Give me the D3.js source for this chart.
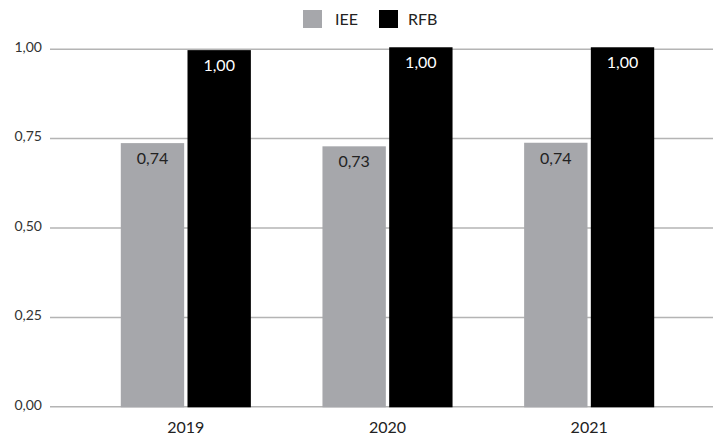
<!DOCTYPE html>
<html>
<head>
<meta charset="utf-8">
<script src="https://cdn.jsdelivr.net/npm/d3@7"></script>
<style>
  body { margin: 0; background: #fff; }
  svg { display: block; font-family: Lato, "Open Sans", sans-serif; }
</style>
</head>
<body>
<svg width="715" height="437"></svg>
<script>
(function (d3) {
  'use strict';

  // data
  const years = ['2019', '2020', '2021'];
  const seriesNames = ['IEE', 'RFB'];
  const ieeValues = [0.736, 0.727, 0.737];
  const rfbValues = [0.996, 1.004, 1.004];
  const yTicks = [0, 0.25, 0.5, 0.75, 1];

  const colors = { IEE: '#a6a7ab', RFB: '#000000' };
  const labelColors = { IEE: '#222222', RFB: '#ffffff' };

  const svg = d3.select('svg');
  const fmt = v => d3.format('.2f')(v).replace('.', ',');

  const rows = years.map((year, i) => ({ year, IEE: ieeValues[i], RFB: rfbValues[i] }));

  const yScale = d3.scaleLinear().domain([0, 1]).range([406.3, 48.7]);

  const xScale = d3.scaleBand()
    .domain(years)
    .range([85, 690])
    .paddingInner(0.355)
    .paddingOuter(0.1775);

  const xSub = d3.scaleBand()
    .domain(seriesNames)
    .range([0, xScale.bandwidth()])
    .paddingInner(0.05);

  // y axis with gridlines
  const yAxisG = svg.append('g')
    .attr('transform', 'translate(50,0)')
    .call(d3.axisLeft(yScale)
      .tickValues(yTicks)
      .tickFormat(fmt)
      .tickSize(-663)
      .tickPadding(8));
  yAxisG.select('.domain').remove();
  yAxisG.selectAll('.tick line')
    .attr('stroke', '#b4b4b4')
    .attr('stroke-width', 1.5);
  yAxisG.selectAll('.tick text')
    .attr('font-family', 'Lato, "Open Sans", sans-serif')
    .attr('font-size', 14)
    .attr('fill', '#333')
    .attr('dy', '0.2em');

  // bars
  const groups = svg.append('g').selectAll('g')
    .data(rows)
    .join('g')
    .attr('transform', d => `translate(${xScale(d.year)},0)`);

  groups.selectAll('rect')
    .data(d => seriesNames.map(key => ({ key, value: d[key] })))
    .join('rect')
    .attr('x', d => xSub(d.key))
    .attr('y', d => yScale(d.value))
    .attr('width', xSub.bandwidth())
    .attr('height', d => yScale(0) - yScale(d.value) + 1)
    .attr('fill', d => colors[d.key]);

  groups.selectAll('text')
    .data(d => seriesNames.map(key => ({ key, value: d[key] })))
    .join('text')
    .attr('x', d => xSub(d.key) + xSub.bandwidth() / 2)
    .attr('y', d => yScale(d.value) + 21)
    .attr('text-anchor', 'middle')
    .attr('font-size', 16)
    .attr('fill', d => labelColors[d.key])
    .text(d => fmt(d.value));

  // x axis labels
  const xAxisG = svg.append('g')
    .attr('transform', `translate(0,${yScale(0)})`)
    .call(d3.axisBottom(xScale).tickSize(0).tickPadding(15));
  xAxisG.select('.domain').remove();
  xAxisG.selectAll('.tick text')
    .attr('font-family', 'Lato, "Open Sans", sans-serif')
    .attr('font-size', 16)
    .attr('fill', '#222');

  // legend
  const legendX = d3.scaleOrdinal().domain(seriesNames).range([303, 379]);
  const legend = svg.append('g').selectAll('g')
    .data(seriesNames)
    .join('g')
    .attr('transform', d => `translate(${legendX(d)},10)`);
  legend.append('rect')
    .attr('width', 19)
    .attr('height', 18)
    .attr('fill', d => colors[d]);
  legend.append('text')
    .attr('x', d => d === 'IEE' ? 32 : 29)
    .attr('y', 14.5)
    .attr('font-size', 16)
    .attr('fill', '#222')
    .text(d => d);

}(d3));
</script>
</body>
</html>
